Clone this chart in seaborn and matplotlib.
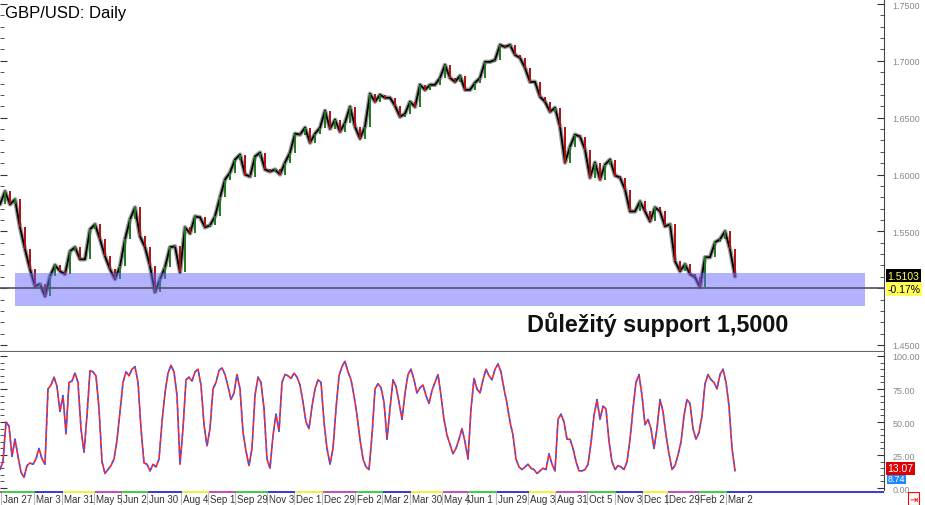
import numpy as np
import pandas as pd
import matplotlib
matplotlib.use("Agg")
import matplotlib.pyplot as plt
import seaborn as sns

# daily GBP/USD closes, sampled roughly every 4 sessions
close = [
    1.5737, 1.5851, 1.5737, 1.5781, 1.5535, 1.5342, 1.5167, 1.5018, 1.5035, 1.4930,
    1.5105, 1.5202, 1.5149, 1.5123, 1.5324, 1.5360, 1.5254, 1.5254, 1.5517, 1.5561,
    1.5430, 1.5281, 1.5167, 1.5079, 1.5193, 1.5430, 1.5605, 1.5710, 1.5456, 1.5360,
    1.5193, 1.4965, 1.5079, 1.5184, 1.5360, 1.5368, 1.5140, 1.5535, 1.5482, 1.5631,
    1.5623, 1.5535, 1.5553, 1.5631, 1.5798, 1.5956, 1.6017, 1.6131, 1.6175, 1.6000,
    1.5982, 1.6158, 1.6193, 1.6044, 1.6026, 1.6044, 1.6000, 1.6105, 1.6193, 1.6359,
    1.6351, 1.6412, 1.6280, 1.6359, 1.6412, 1.6561, 1.6403, 1.6482, 1.6377, 1.6456,
    1.6596, 1.6421, 1.6316, 1.6421, 1.6710, 1.6640, 1.6701, 1.6675, 1.6675, 1.6605,
    1.6508, 1.6535, 1.6640, 1.6596, 1.6789, 1.6745, 1.6789, 1.6789, 1.6850, 1.6964,
    1.6850, 1.6815, 1.6868, 1.6745, 1.6745, 1.6807, 1.6850, 1.6991, 1.6991, 1.7008,
    1.7140, 1.7122, 1.7140, 1.7052, 1.7026, 1.6938, 1.6815, 1.6815, 1.6684, 1.6640,
    1.6552, 1.6587, 1.6421, 1.6105, 1.6245, 1.6351, 1.6333, 1.6219, 1.5973, 1.6105,
    1.5956, 1.6087, 1.6131, 1.5991, 1.5973, 1.5868, 1.5675, 1.5675, 1.5763, 1.5675,
    1.5588, 1.5710, 1.5675, 1.5544, 1.5561, 1.5237, 1.5149, 1.5210, 1.5123, 1.5096,
    1.5009, 1.5272, 1.5272, 1.5403, 1.5430, 1.5500, 1.5342, 1.5103,
]

# stochastic oscillator %K, sampled ~2.4 sessions apart
stoch_k = [
    14, 20, 50, 47, 24, 37, 24, 12, 8, 17,
    19, 18, 22, 30, 22, 18, 75, 78, 84, 77,
    58, 70, 41, 80, 81, 87, 80, 45, 27, 55,
    89, 88, 85, 60, 20, 11, 14, 17, 22, 36,
    58, 80, 88, 85, 90, 92, 80, 45, 19, 18,
    13, 18, 16, 22, 50, 72, 87, 93, 88, 70,
    18, 45, 82, 84, 81, 88, 90, 78, 48, 32,
    45, 75, 80, 89, 91, 86, 77, 67, 72, 86,
    75, 42, 28, 17, 30, 70, 84, 80, 60, 22,
    15, 40, 56, 43, 80, 86, 85, 83, 87, 84,
    78, 65, 50, 45, 62, 75, 82, 80, 50, 30,
    18, 30, 60, 85, 92, 96, 88, 82, 70, 55,
    37, 22, 16, 14, 40, 75, 79, 76, 65, 37,
    60, 82, 77, 65, 52, 72, 86, 90, 82, 72,
    76, 78, 70, 64, 74, 80, 86, 70, 52, 40,
    33, 26, 30, 37, 45, 35, 22, 60, 83, 75,
    72, 82, 90, 85, 82, 90, 94, 88, 75, 64,
    50, 40, 22, 16, 14, 16, 18, 15, 14, 11,
    13, 15, 14, 26, 18, 13, 52, 56, 50, 37,
    37, 30, 20, 13, 13, 14, 18, 34, 55, 67,
    52, 62, 60, 35, 20, 14, 17, 16, 14, 20,
    37, 60, 80, 86, 70, 48, 52, 45, 30, 45,
    67, 58, 40, 26, 14, 17, 25, 35, 55, 67,
    64, 45, 37, 42, 55, 79, 86, 82, 80, 75,
    86, 90, 80, 62, 30, 13,
]

date_labels = ["Jan 27", "Mar 3", "Mar 31", "May 5", "Jun 2", "Jun 30", "Aug 4", "Sep 1",
               "Sep 29", "Nov 3", "Dec 1", "Dec 29", "Feb 2", "Mar 2", "Mar 30", "May 4",
               "Jun 1", "Jun 29", "Aug 3", "Aug 31", "Oct 5", "Nov 3", "Dec 1", "Dec 29",
               "Feb 2", "Mar 2"]
date_pos = [0.4, 7.0, 12.6, 19.0, 24.4, 29.6, 36.4, 41.8, 47.2, 53.6, 59.0, 64.6, 71.2,
            76.6, 82.2, 88.6, 93.6, 99.4, 105.8, 111.2, 117.6, 123.2, 128.6, 133.6,
            139.8, 145.4]
strip_colors = ["#c050c0", "#40d040", "#3c3cdc", "#f2f23c"]

price_ticks = [1.45, 1.50, 1.55, 1.60, 1.65, 1.70, 1.75]
stoch_ticks = [0, 25, 50, 75, 100]
last_price = 1.5103
last_change = "-0.17%"
stoch_last = [13.07, 8.74]
support_low, support_high = 1.4842, 1.5132

sns.set_style("white")
plt.rcParams["font.family"] = ["Liberation Sans", "DejaVu Sans"]

fig = plt.figure(figsize=(9.25, 5.06), dpi=100)
ax = fig.add_axes([0, 0.3043, 0.9557, 0.6957])
ax2 = fig.add_axes([0, 0.0296, 0.9557, 0.2727])
ax3 = fig.add_axes([0, 0, 0.9557, 0.0296])

df = pd.DataFrame({"bar": np.arange(len(close)), "close": close})
df["open"] = df["close"].shift(1).fillna(df["close"])
up = df["close"] >= df["open"]

# price panel
sns.lineplot(data=df, x="bar", y="close", ax=ax, color="#9a9a9a", lw=3.2, zorder=2)
sns.lineplot(data=df, x="bar", y="close", ax=ax, color="black", lw=1.3, zorder=3)
ax.vlines(df["bar"][up], df["open"][up], df["close"][up], color="#1f7a1f", lw=1.4, zorder=3)
ax.vlines(df["bar"][~up], df["open"][~up], df["close"][~up], color="#b01010", lw=1.4, zorder=3)
ax.axhspan(support_low, support_high, xmin=15 / 884, xmax=865 / 884,
           color="#6666ff", alpha=0.5, lw=0, zorder=4)
ax.axhline(1.5, color="#505068", lw=1.2, zorder=5)

ax.set_xlim(0, 176.8)
ax.set_ylim(1.4447, 1.7544)
ax.yaxis.tick_right()
ax.set_yticks(price_ticks)
ax.set_yticks(np.arange(1.45, 1.751, 0.01), minor=True)
# the 1.5000 label sits behind the last-price boxes
ax.set_yticklabels(["" if abs(v - 1.5) < 1e-9 else f"{v:.4f}" for v in price_ticks])
ax.tick_params(axis="y", which="both", direction="in", right=True, left=True,
               labelleft=False, labelright=True, colors="#333333",
               labelcolor="#888888", labelsize=6.5, pad=6)
ax.tick_params(axis="y", which="major", length=5)
ax.tick_params(axis="y", which="minor", length=3)
ax.set_xticks([])
ax.set_xlabel("")
ax.set_ylabel("")
for side in ["top", "left"]:
    ax.spines[side].set_visible(False)
ax.spines["right"].set_color("#444444")
ax.spines["bottom"].set_color("#666666")

ax.text(0.006, 0.963, "GBP/USD: Daily", transform=ax.transAxes, fontsize=12,
        ha="left", va="center", color="black")
ax.text(0.596, 0.077, "Důležitý support 1,5000", transform=ax.transAxes, fontsize=16.8,
        fontweight="bold", ha="left", va="center", color="#111111")

yt = ax.get_yaxis_transform()
ax.text(1.004, last_price + 0.0004, f"{last_price:.4f}", transform=yt, fontsize=7.5,
        color="#ffff66", ha="left", va="center", zorder=10,
        bbox=dict(boxstyle="square,pad=0.15", facecolor="black", edgecolor="none"))
ax.text(1.004, 1.4993, last_change, transform=yt, fontsize=7.5, color="black",
        ha="left", va="center", zorder=10,
        bbox=dict(boxstyle="square,pad=0.15", facecolor="#ffff55", edgecolor="none"))

# stochastic panel
sx = np.arange(len(stoch_k)) * 0.6
sns.lineplot(x=sx, y=stoch_k, ax=ax2, color="#ff2020", lw=1.2)
sns.lineplot(x=sx, y=stoch_k, ax=ax2, color="#3a5cff", lw=1.0, linestyle=(0, (3, 3)))
ax2.set_xlim(0, 176.8)
ax2.set_ylim(-1.5, 103)
ax2.yaxis.tick_right()
ax2.set_yticks(stoch_ticks)
ax2.set_yticks(np.arange(0, 101, 5), minor=True)
ax2.set_yticklabels([f"{v:.2f}" for v in stoch_ticks])
ax2.tick_params(axis="y", which="both", direction="in", right=True, left=True,
                labelleft=False, labelright=True, colors="#333333",
                labelcolor="#888888", labelsize=6.5, pad=6)
ax2.tick_params(axis="y", which="major", length=5)
ax2.tick_params(axis="y", which="minor", length=3)
ax2.set_xticks([])
ax2.set_xlabel("")
ax2.set_ylabel("")
for side in ["top", "left", "bottom"]:
    ax2.spines[side].set_visible(False)
ax2.spines["right"].set_color("#444444")

yt2 = ax2.get_yaxis_transform()
ax2.text(1.004, stoch_last[1] - 1.5, f"{stoch_last[1]:.2f}", transform=yt2, fontsize=6.5,
         color="white", ha="left", va="center", zorder=10,
         bbox=dict(boxstyle="square,pad=0.1", facecolor="#1e88ff", edgecolor="none"))
ax2.text(1.004, stoch_last[0] + 2, f"{stoch_last[0]:.2f}", transform=yt2, fontsize=7.5,
         color="white", ha="left", va="center", zorder=11,
         bbox=dict(boxstyle="square,pad=0.15", facecolor="#dd0000", edgecolor="none"))

# date strip
ax3.set_xlim(0, 176.8)
ax3.set_ylim(0, 1)
ax3.axis("off")
edges = [0] + date_pos + [176.8]
for i in range(len(edges) - 1):
    ax3.axhspan(0.8, 0.95, xmin=edges[i] / 176.8, xmax=edges[i + 1] / 176.8,
                color=strip_colors[i % 4], lw=0)
for p, lab in zip(date_pos, date_labels):
    ax3.axvline(p - 0.15, ymin=0, ymax=0.8, color="#bbbbbb", lw=0.8)
    ax3.text(p + 0.25, 0.38, lab, fontsize=7, color="#333333", ha="left", va="center")

fig.text(0.988, 0.012, "\u21e5", fontsize=7, color="red", ha="center", va="center",
         family="DejaVu Sans",
         bbox=dict(boxstyle="square,pad=0.15", facecolor="white", edgecolor="red", lw=0.8))

fig.savefig("out.png", dpi=100)
